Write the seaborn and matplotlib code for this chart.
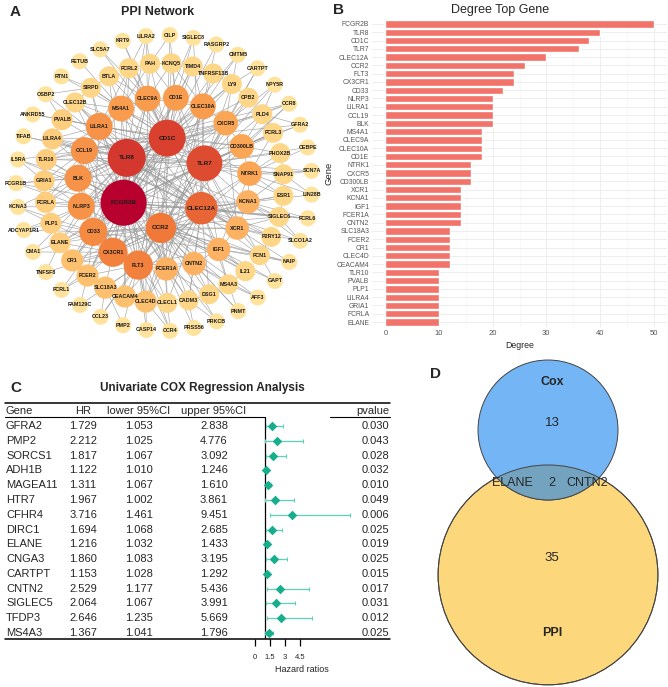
import numpy as np
import matplotlib
matplotlib.use('Agg')
import matplotlib.pyplot as plt
import seaborn as sns
from matplotlib import font_manager
from matplotlib.collections import LineCollection
from matplotlib.colors import LinearSegmentedColormap
from matplotlib.patches import Circle

# ---------------- data ----------------
# panel B: degree of the top genes in the PPI network
top_genes = ['FCGR2B', 'TLR8', 'CD1C', 'TLR7', 'CLEC12A', 'CCR2', 'FLT3', 'CX3CR1',
             'CD33', 'NLRP3', 'LILRA1', 'CCL19', 'BLK', 'MS4A1', 'CLEC9A', 'CLEC10A',
             'CD1E', 'NTRK1', 'CXCR5', 'CD300LB', 'XCR1', 'KCNA1', 'IGF1', 'FCER1A',
             'CNTN2', 'SLC18A3', 'FCER2', 'CR1', 'CLEC4D', 'CEACAM4', 'TLR10', 'PVALB',
             'PLP1', 'LILRA4', 'GRIA1', 'FCRLA', 'ELANE']
top_degree = [50, 40, 38, 36, 30, 26, 24, 24, 22, 20, 20, 20, 20, 18, 18, 18,
              18, 16, 16, 16, 14, 14, 14, 14, 14, 12, 12, 12, 12, 12, 10, 10,
              10, 10, 10, 10, 10]

# panel A: network rings (clockwise)
ring1 = ['CD1C', 'TLR7', 'CLEC12A', 'CCR2', 'FCGR2B', 'TLR8']
ring2 = ['CLEC9A', 'CD1E', 'CLEC10A', 'CXCR5', 'CD300LB', 'NTRK1', 'KCNA1', 'XCR1',
         'IGF1', 'CNTN2', 'FCER1A', 'FLT3', 'CX3CR1', 'CD33', 'NLRP3', 'BLK', 'CCL19',
         'LILRA1', 'MS4A1']
ring3 = ['FCRL2', 'PAH', 'KCNQ5', 'TIMD4', 'TNFRSF13B', 'LY9', 'CPB2', 'PLD4', 'FCRL3',
         'PHOX2B', 'SNAP91', 'ESR1', 'SIGLEC6', 'P2RY12', 'FCN1', 'IL21', 'MS4A3', 'DSG1',
         'CADM3', 'CLECL1', 'CLEC4D', 'CEACAM4', 'SLC18A3', 'FCER2', 'CR1', 'ELANE',
         'PLP1', 'FCRLA', 'GRIA1', 'TLR10', 'LILRA4', 'PVALB', 'CLEC12B', 'SIRPD', 'BTLA']
ring4 = ['LILRA2', 'CILP', 'SIGLEC8', 'RASGRP2', 'CMTM5', 'CARTPT', 'NPY5R', 'CCR8',
         'GFRA2', 'CEBPE', 'SCN7A', 'LIN28B', 'FCRL6', 'SLCO1A2', 'NAIP', 'GAPT', 'AFF3',
         'PNMT', 'PRKCB', 'PRSS56', 'CCR4', 'CASP14', 'PMP2', 'CCL23', 'FAM129C', 'FCRL1',
         'TNFSF8', 'CMA1', 'ADCYAP1R1', 'KCNA3', 'FCGR1B', 'IL5RA', 'TIFAB', 'ANKRD55',
         'OSBP2', 'RTN1', 'FETUB', 'SLC5A7', 'KRT9']
other_degree = 8   # ring-3 genes outside the top list
outer_degree = 4   # outer ring genes

links = {
    'FCGR2B': 'TLR8 CD1C TLR7 CLEC12A CCR2 FLT3 CX3CR1 CD33 NLRP3 LILRA1 CCL19 BLK MS4A1 CLEC9A '
              'CLEC10A CD1E CXCR5 CD300LB FCER1A FCER2 CR1 CLEC4D CEACAM4 FCRLA LILRA4 FCRL2 FCRL3 '
              'FCRL1 FCRL6 SIGLEC6 SIGLEC8 FCGR1B CLEC12B BTLA SIRPD ELANE TLR10 IL21 CCR4 PRKCB '
              'FCN1 CADM3 CLECL1 KCNA1 XCR1 IGF1 LY9 TNFRSF13B TIMD4 IL5RA',
    'TLR8': 'CD1C TLR7 CLEC12A CCR2 FLT3 CX3CR1 CD33 NLRP3 LILRA1 CCL19 BLK CLEC9A CLEC10A TLR10 '
            'CLEC4D CEACAM4 LILRA4 FCER1A CR1 CD300LB ELANE SIGLEC6 NTRK1 FCN1 PLD4 CXCR5 XCR1 '
            'MS4A1 CCR8 TIFAB CPB2 P2RY12 NAIP IL21 OSBP2 GRIA1 PVALB CLEC12B LILRA2 CMA1',
    'CD1C': 'TLR7 CLEC12A CCR2 FLT3 CX3CR1 CD33 CLEC9A CLEC10A CD1E XCR1 MS4A1 CD300LB FCER1A '
            'LILRA1 CCL19 BLK NLRP3 CXCR5 FCER2 CR1 TIMD4 KCNQ5 PAH LY9 BTLA SIRPD CLEC12B TLR10 '
            'LILRA4 PVALB FCRLA FCRL2 CILP KRT9 SLC5A7 RASGRP2 CMTM5 GFRA2',
    'TLR7': 'CLEC12A CCR2 FLT3 CX3CR1 CD33 NLRP3 LILRA1 CCL19 BLK CLEC9A CLEC10A CD1E NTRK1 CXCR5 '
            'CD300LB KCNA1 IGF1 XCR1 TLR10 LILRA4 CLEC4D ELANE FCN1 PHOX2B SNAP91 ESR1 PLD4 FCRL3 '
            'CPB2 LY9 NPY5R CARTPT CEBPE SCN7A GFRA2',
    'CLEC12A': 'CCR2 FLT3 CX3CR1 CD33 NLRP3 CLEC9A CLEC10A CD1E CLEC4D CEACAM4 CLECL1 CLEC12B '
               'SIGLEC6 LILRA4 FCER1A KCNA1 XCR1 IGF1 CNTN2 ESR1 P2RY12 SIGLEC8 FCRL6 LIN28B '
               'SLCO1A2 MS4A3 DSG1 CADM3 BLK CCL19 LILRA1 MS4A1',
    'CCR2': 'FLT3 CX3CR1 CD33 CCL19 CXCR5 XCR1 CCR8 CCR4 CCL23 IGF1 CNTN2 FCER1A IL21 MS4A3 DSG1 '
            'CADM3 PRKCB PNMT AFF3 GAPT NAIP FCN1 ELANE CR1 CLEC9A CD1E NTRK1 KCNA1',
    'FLT3': 'CX3CR1 CD33 NLRP3 IGF1 CNTN2 FCER1A SLC18A3 CEACAM4 CLEC4D CLECL1 CASP14 PMP2 CCL23 '
            'FAM129C FCER2 CR1 CD1E CLEC10A CXCR5 NTRK1',
    'CX3CR1': 'CD33 NLRP3 BLK CCL19 CR1 FCER2 SLC18A3 ELANE FCRL1 TNFSF8 CMA1 PLP1 CD300LB KCNA1 '
              'CLEC9A',
    'CD33': 'NLRP3 BLK LILRA1 ELANE PLP1 CR1 FCER2 ADCYAP1R1 KCNA3 SIGLEC6 CD1E XCR1 IGF1',
    'NLRP3': 'BLK CCL19 FCRLA PLP1 GRIA1 ELANE KCNA3 FCGR1B ADCYAP1R1 CXCR5 CNTN2',
    'LILRA1': 'CCL19 MS4A1 LILRA4 PVALB SIRPD CLEC12B TLR10 LILRA2 ANKRD55 CD300LB FCER1A',
    'CCL19': 'BLK TLR10 LILRA4 GRIA1 IL5RA TIFAB FCRLA CXCR5 XCR1 CCR4 CCR8',
    'BLK': 'MS4A1 FCRLA GRIA1 TLR10 FCGR1B KCNA3 IL5RA CLEC10A IGF1',
    'MS4A1': 'CLEC9A BTLA SIRPD FCRL2 PAH CLEC12B RTN1 FETUB NTRK1 CNTN2',
    'CLEC9A': 'CD1E BTLA FCRL2 PAH KCNQ5 KRT9 SLC5A7 LILRA2 CLEC10A XCR1 CLEC4D',
    'CLEC10A': 'CD1E CXCR5 LY9 TNFRSF13B TIMD4 KCNQ5 CMTM5 RASGRP2 CLEC4D FCER1A',
    'CD1E': 'KCNQ5 TIMD4 PAH CILP SIGLEC8 FCER2',
    'NTRK1': 'CD300LB KCNA1 SNAP91 PHOX2B ESR1 FCRL3 SCN7A LIN28B CEBPE IGF1',
    'CXCR5': 'CD300LB LY9 CPB2 PLD4 CARTPT NPY5R XCR1',
    'CD300LB': 'PLD4 FCRL3 PHOX2B CCR8 GFRA2',
    'KCNA1': 'XCR1 ESR1 SIGLEC6 SNAP91 FCRL6 SLCO1A2',
    'XCR1': 'IGF1 P2RY12 FCN1 SIGLEC6 SLCO1A2',
    'IGF1': 'CNTN2 IL21 FCN1 MS4A3 NAIP GAPT',
    'FCER1A': 'CNTN2 CLECL1 CADM3 DSG1 PRSS56',
    'CNTN2': 'DSG1 MS4A3 CADM3 PNMT AFF3',
    'ELANE': 'CR1 PLP1 CMA1 TNFSF8',
    'FCER2': 'SLC18A3 CR1 FCRL1 FAM129C',
    'SLC18A3': 'CEACAM4 CCL23 PMP2',
    'CLEC4D': 'CEACAM4 CLECL1 CASP14 CCR4',
    'CADM3': 'DSG1 PRSS56 PRKCB',
    'MS4A3': 'IL21 AFF3 PNMT',
    'FCN1': 'P2RY12 NAIP GAPT',
    'SIGLEC6': 'ESR1 FCRL6 SLCO1A2',
    'SNAP91': 'PHOX2B SCN7A LIN28B',
    'PLD4': 'FCRL3 CCR8 GFRA2 NPY5R',
    'LY9': 'CPB2 TNFRSF13B CARTPT CMTM5',
    'PAH': 'KCNQ5 FCRL2 LILRA2 CILP',
    'SIRPD': 'BTLA CLEC12B RTN1 OSBP2',
    'PVALB': 'LILRA4 CLEC12B ANKRD55 OSBP2',
    'GRIA1': 'TLR10 FCRLA IL5RA FCGR1B',
    'PLP1': 'FCRLA KCNA3 ADCYAP1R1',
}

# panel C: univariate Cox regression
cox_genes = ['GFRA2', 'PMP2', 'SORCS1', 'ADH1B', 'MAGEA11', 'HTR7', 'CFHR4', 'DIRC1',
             'ELANE', 'CNGA3', 'CARTPT', 'CNTN2', 'SIGLEC5', 'TFDP3', 'MS4A3']
hr = [1.729, 2.212, 1.817, 1.122, 1.311, 1.967, 3.716, 1.694, 1.216, 1.860, 1.153,
      2.529, 2.064, 2.646, 1.367]
lower_ci = [1.053, 1.025, 1.067, 1.010, 1.067, 1.002, 1.461, 1.068, 1.032, 1.083, 1.028,
            1.177, 1.067, 1.235, 1.041]
upper_ci = [2.838, 4.776, 3.092, 1.246, 1.610, 3.861, 9.451, 2.685, 1.433, 3.195, 1.292,
            5.436, 3.991, 5.669, 1.796]
pvals = [0.030, 0.043, 0.028, 0.032, 0.010, 0.049, 0.006, 0.025, 0.019, 0.025, 0.015,
         0.017, 0.031, 0.012, 0.025]
hr_ticks = [0, 1.5, 3, 4.5]

# panel D: venn counts
cox_only, both, ppi_only = 13, 2, 35
shared_genes = ['ELANE', 'CNTN2']

# ---------------- style ----------------
sns.set_theme(style='white')
plt.rcParams['font.family'] = ['Liberation Sans', 'DejaVu Sans']


def pick_font(name, fallback):
    try:
        font_manager.findfont(name, fallback_to_default=False)
        return name
    except Exception:
        return fallback


narrow = pick_font('Liberation Sans Narrow', 'Liberation Sans')

W, H = 668, 687
fig = plt.figure(figsize=(W / 100, H / 100), dpi=100)


def px_axes(x0, y0, x1, y1):
    return fig.add_axes([x0 / W, 1 - y1 / H, (x1 - x0) / W, (y1 - y0) / H])


# ---------------- A: PPI network ----------------
axA = px_axes(0, 25, 330, 345)
axA.set_xlim(0, 330)
axA.set_ylim(345, 25)
axA.axis('off')

deg = dict(zip(top_genes, top_degree))
cx, cy = 164, 183
pos = {}
for names, r, a0 in zip([ring1, ring2, ring3, ring4], [45, 86, 120, 148], [86, 101, 107, 97]):
    ang = np.deg2rad(a0 - np.arange(len(names)) * 360 / len(names))
    for n, a in zip(names, ang):
        pos[n] = (cx + r * np.cos(a), cy - r * np.sin(a))
        if n not in deg:
            deg[n] = other_degree if names is ring3 else outer_degree

segs = [[pos[a], pos[b]] for a, nb in links.items() for b in nb.split()]
axA.add_collection(LineCollection(segs, colors='#9a9a9a', linewidths=0.45, alpha=0.9, zorder=1))

cmap = LinearSegmentedColormap.from_list('deg', [(0, '#FFE9A6'), (0.15, '#FED282'),
                                                 (0.3, '#FBA352'), (0.5, '#F07838'),
                                                 (0.75, '#D9422E'), (1, '#B8002E')])
nodes = list(pos)
nd = np.array([deg[n] for n in nodes], dtype=float)
xy = np.array([pos[n] for n in nodes])
diam = np.interp(nd, [4, 8, 10, 20, 40, 50], [16, 20, 21, 27, 38, 46])
axA.scatter(xy[:, 0], xy[:, 1], s=(diam * 0.72) ** 2, c=cmap((nd - 2) / 48),
            linewidths=0, zorder=2)
for n, (x, y), d in zip(nodes, xy, nd):
    axA.text(x, y, n, fontsize=4.6 if d >= 26 else 3.9, weight='bold', color='#1a1a1a',
             ha='center', va='center', zorder=3)

# ---------------- B: degree bar chart ----------------
axB = px_axes(372, 19, 667, 327)
sns.barplot(x=top_degree, y=top_genes, color='#F1736A', saturation=1, width=0.88,
            orient='h', ax=axB, zorder=2)
axB.set_xlim(-2.5, 52.5)
axB.set_ylim(len(top_genes) - 0.4, -0.6)
axB.set_xticks(range(0, 51, 10))
axB.set_xticks(range(5, 51, 10), minor=True)
axB.grid(True, which='major', axis='both', color='#EBEBEB', lw=0.6, zorder=0)
axB.grid(True, which='minor', axis='x', color='#F4F4F4', lw=0.4, zorder=0)
for s in axB.spines.values():
    s.set_visible(False)
axB.tick_params(length=0, pad=2, labelcolor='#555555')
for lab in axB.get_yticklabels():
    lab.set_fontsize(4.9)
    lab.set_family(narrow)
for lab in axB.get_xticklabels():
    lab.set_fontsize(5.5)
    lab.set_family(narrow)
axB.set_xlabel('Degree', fontsize=6.3, family=narrow, labelpad=3)
axB.set_ylabel('Gene', fontsize=6.8, labelpad=2)

# ---------------- C: forest plot ----------------
row0, step = 426, 14.79
axF = px_axes(255, 417, 390, 639)
rows = np.arange(len(cox_genes))
hr_a, lo_a, up_a = np.array(hr), np.array(lower_ci), np.array(upper_ci)
axF.errorbar(hr_a, rows, xerr=[hr_a - lo_a, up_a - hr_a], fmt='none', ecolor='#5CD3B8',
             elinewidth=0.9, capsize=1.4, capthick=0.8, zorder=2)
sns.scatterplot(x=hr_a, y=rows, marker='D', color='#17AE8E', s=24, linewidth=0,
                ax=axF, zorder=3)
axF.axvline(1, color='black', lw=0.9, zorder=1)
axF.set_xlim(0, 13.5)
axF.set_ylim((639 - row0) / step, (417 - row0) / step)
axF.set_xticks(hr_ticks)
axF.set_xticklabels([f'{t:g}' for t in hr_ticks], fontsize=5.5)
axF.set_yticks([])
axF.tick_params(axis='x', bottom=True, direction='out', length=5, width=0.9,
                color='black', pad=6)
for s in axF.spines.values():
    s.set_visible(False)
axF.patch.set_alpha(0)

# ---------------- overlay: titles, table, venn ----------------
ov = fig.add_axes([0, 0, 1, 1])
ov.set_xlim(0, W)
ov.set_ylim(H, 0)
ov.axis('off')

for lab, x, y in [('A', 10, 12), ('B', 333, 10), ('C', 10, 388), ('D', 430, 374)]:
    ov.text(x, y, lab, fontsize=11, weight='bold', ha='left', va='center')
ov.text(158, 12, 'PPI Network', fontsize=9, weight='bold', ha='center', va='center')
ov.text(500, 10, 'Degree Top Gene', fontsize=9, family=narrow, ha='center', va='center')
ov.text(202, 388, 'Univariate COX Regression Analysis', fontsize=8.5, weight='bold',
        ha='center', va='center')

# table rules
ov.plot([5, 390], [403, 403], color='black', lw=1.1)
ov.plot([5, 265], [417, 417], color='black', lw=0.8)
ov.plot([330, 390], [417, 417], color='black', lw=0.8)
ov.plot([5, 390], [639, 639], color='black', lw=1.1)

fs = 8
ov.text(6, 411, 'Gene', fontsize=fs, ha='left', va='center')
ov.text(83, 411, 'HR', fontsize=fs, ha='center', va='center')
ov.text(139, 411, 'lower 95%CI', fontsize=fs, ha='center', va='center')
ov.text(214, 411, 'upper 95%CI', fontsize=fs, ha='center', va='center')
ov.text(389, 411, 'pvalue', fontsize=fs, ha='right', va='center')
for i, g in enumerate(cox_genes):
    y = row0 + i * step
    ov.text(6, y, g, fontsize=fs, ha='left', va='center')
    ov.text(83, y, f'{hr[i]:.3f}', fontsize=fs, ha='center', va='center')
    ov.text(139, y, f'{lower_ci[i]:.3f}', fontsize=fs, ha='center', va='center')
    ov.text(214, y, f'{upper_ci[i]:.3f}', fontsize=fs, ha='center', va='center')
    ov.text(389, y, f'{pvals[i]:.3f}', fontsize=fs, ha='right', va='center')
ov.text(302, 669, 'Hazard ratios', fontsize=6.5, ha='center', va='center')

# venn (area proportional)
k = 18.07
r_cox = k * np.sqrt(cox_only + both)
r_ppi = k * np.sqrt(ppi_only + both)
vx, vy_cox = 548, 430
vy_ppi = vy_cox + r_cox + r_ppi - 35
ppi_circ = Circle((vx, vy_ppi), r_ppi, facecolor='#FDD77C', edgecolor='#444444', lw=0.7)
cox_circ = Circle((vx, vy_cox), r_cox, facecolor='#74B5F6', edgecolor='#444444', lw=0.7)
ov.add_patch(ppi_circ)
ov.add_patch(cox_circ)
inter = Circle((vx, vy_cox), r_cox, facecolor='#74A3C0', edgecolor='#444444', lw=0.7)
ov.add_patch(inter)
inter.set_clip_path(ppi_circ)
ov.add_patch(Circle((vx, vy_ppi), r_ppi, facecolor='none', edgecolor='#444444', lw=0.7))

vfont = ['Liberation Sans', 'DejaVu Sans']
ov.text(vx + 4, vy_cox - r_cox + 22, 'Cox', fontsize=9, weight='bold', family=vfont,
        ha='center', va='center')
ov.text(vx + 4, vy_cox - 7, str(cox_only), fontsize=9.5, family=vfont, ha='center', va='center')
y_mid = vy_cox + r_cox - 17
ov.text(vx + 4, y_mid, str(both), fontsize=9, family=vfont, ha='center', va='center')
ov.text(vx - 36, y_mid, shared_genes[0], fontsize=9, family=vfont, ha='center', va='center')
ov.text(vx + 39, y_mid, shared_genes[1], fontsize=9, family=vfont, ha='center', va='center')
ov.text(vx + 4, vy_ppi - 17, str(ppi_only), fontsize=9.5, family=vfont, ha='center', va='center')
ov.text(vx + 4, vy_ppi + 58, 'PPI', fontsize=9, weight='bold', family=vfont,
        ha='center', va='center')

fig.savefig('out.png', dpi=100)
